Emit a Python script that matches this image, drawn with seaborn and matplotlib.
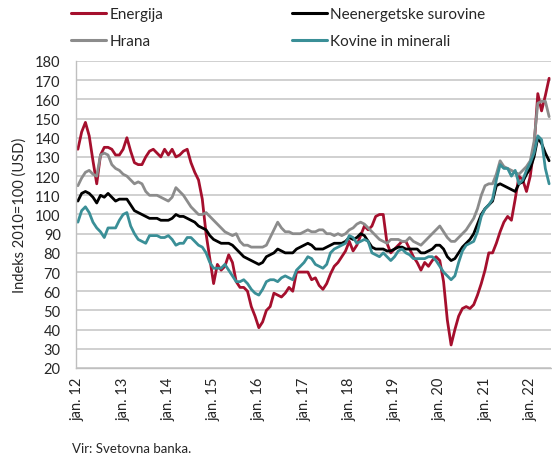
import numpy as np
import pandas as pd
import matplotlib
matplotlib.use("Agg")
import matplotlib.pyplot as plt
import seaborn as sns

# Monthly values, jan. 2012 - jun. 2022 (index 2010=100, USD)
energija = [
    134, 143, 148, 141, 128, 116, 131, 135, 135, 134, 131, 131,
    134, 140, 133, 127, 126, 126, 130, 133, 134, 132, 130, 134,
    131, 134, 130, 131, 133, 134, 127, 122, 118, 108, 90, 77,
    64, 74, 71, 73, 79, 75, 65, 62, 62, 60, 52, 47,
    41, 44, 50, 52, 59, 58, 57, 59, 62, 60, 70, 70,
    70, 70, 66, 67, 63, 61, 64, 69, 73, 75, 78, 81,
    86, 81, 84, 89, 94, 92, 94, 99, 100, 100, 85, 80,
    82, 84, 86, 86, 82, 78, 75, 71, 75, 73, 76, 78,
    76, 65, 45, 32, 40, 47, 51, 52, 51, 53, 58, 64,
    71, 80, 80, 85, 91, 96, 99, 97, 108, 120, 118, 112,
    120, 135, 163, 154, 162, 171,
]
hrana = [
    115, 119, 122, 123, 121, 120, 131, 132, 131, 126, 124, 123,
    121, 120, 118, 116, 117, 116, 112, 110, 110, 110, 109, 108,
    107, 109, 114, 112, 110, 107, 104, 102, 100, 100, 101, 99,
    97, 95, 93, 91, 90, 89, 90, 86, 84, 84, 83, 83,
    83, 83, 84, 88, 92, 96, 93, 91, 91, 90, 90, 90,
    91, 92, 91, 91, 92, 92, 90, 90, 89, 90, 89, 90,
    92, 93, 95, 96, 95, 93, 91, 89, 87, 86, 85, 87,
    87, 87, 86, 86, 88, 86, 85, 84, 86, 88, 90, 92,
    94, 91, 88, 86, 86, 88, 90, 92, 95, 98, 103, 110,
    115, 116, 116, 121, 128, 125, 124, 123, 122, 121, 123, 125,
    128, 138, 158, 159, 159, 151,
]
neenergetske = [
    107, 111, 112, 111, 109, 106, 110, 109, 111, 109, 107, 108,
    108, 108, 105, 102, 101, 100, 99, 98, 98, 98, 97, 97,
    97, 98, 100, 99, 99, 98, 97, 96, 94, 93, 92, 89,
    87, 86, 85, 85, 85, 84, 82, 80, 78, 77, 76, 75,
    74, 75, 78, 79, 80, 82, 81, 80, 80, 80, 82, 83,
    84, 85, 84, 82, 82, 82, 83, 84, 85, 85, 85, 86,
    88, 87, 88, 90, 89, 86, 83, 82, 82, 82, 81, 81,
    82, 83, 83, 82, 82, 82, 82, 80, 80, 81, 82, 84,
    84, 82, 78, 76, 77, 80, 83, 85, 87, 90, 95, 100,
    103, 105, 107, 115, 116, 115, 114, 113, 112, 116, 117, 121,
    124, 130, 140, 137, 132, 128,
]
kovine = [
    96, 102, 104, 101, 96, 93, 91, 88, 93, 93, 93, 97,
    100, 101, 94, 90, 87, 86, 85, 89, 89, 89, 88, 88,
    89, 87, 84, 85, 85, 88, 88, 86, 84, 83, 80, 75,
    72, 72, 72, 74, 71, 68, 65, 65, 66, 64, 61, 59,
    58, 61, 65, 66, 66, 65, 67, 68, 67, 66, 71, 73,
    75, 78, 77, 74, 73, 72, 74, 80, 82, 83, 84, 85,
    89, 88, 85, 86, 87, 86, 80, 79, 78, 80, 78, 76,
    78, 81, 82, 80, 79, 77, 77, 77, 77, 78, 78, 76,
    73, 70, 68, 66, 68, 75, 81, 84, 85, 86, 91, 99,
    103, 105, 108, 118, 126, 124, 124, 120, 123, 116, 118, 123,
    127, 132, 141, 139, 124, 116,
]
serije = ["Energija", "Hrana", "Neenergetske surovine", "Kovine in minerali"]
barve = ["#A50F2D", "#8C8C8C", "#000000", "#3A8F97"]
oznake_let = ["jan. 12", "jan. 13", "jan. 14", "jan. 15", "jan. 16", "jan. 17",
              "jan. 18", "jan. 19", "jan. 20", "jan. 21", "jan. 22"]

n = len(energija)
mesec = np.arange(n)
df = pd.DataFrame({
    "mesec": np.tile(mesec, 4),
    "vrednost": energija + hrana + neenergetske + kovine,
    "serija": np.repeat(serije, n),
})

sns.set_style("white")
plt.rcParams["font.family"] = ["Lato", "DejaVu Sans"]

fig = plt.figure(figsize=(5.52, 4.60), dpi=100)
ax = fig.add_axes([76 / 552, 1 - 369 / 460, (551 - 76) / 552, (369 - 62) / 460])

sns.lineplot(data=df, x="mesec", y="vrednost", hue="serija", hue_order=serije,
             palette=barve, linewidth=2.0, ax=ax, legend=False)

ax.set_xlim(-0.5, n - 0.5)
ax.set_ylim(20, 180)
ax.set_yticks(np.arange(20, 181, 10))
ax.set_xticks(np.arange(0, n, 12))
ax.set_xticklabels(oznake_let, rotation=90, fontsize=10.5)
ax.tick_params(axis="y", labelsize=10.5, length=0, pad=11)
ax.tick_params(axis="x", length=0, pad=6)
ax.grid(axis="y", color="#C8C8C8", linewidth=1.2)
ax.set_axisbelow(True)
for s in ["top", "right"]:
    ax.spines[s].set_visible(False)
for s in ["left", "bottom"]:
    ax.spines[s].set_color("#BFBFBF")
    ax.spines[s].set_linewidth(1.0)
ax.set_xlabel("")
ax.set_ylabel("Indeks 2010=100 (USD)", fontsize=10.5, labelpad=6)

h = {lab: plt.Line2D([], [], color=c, linewidth=2.2) for lab, c in zip(serije, barve)}
kw = dict(loc="upper left", frameon=False, fontsize=11, handlelength=2.3,
          handletextpad=0.2, labelspacing=0.85, borderaxespad=0, borderpad=0)
leg1 = fig.legend([h["Energija"], h["Hrana"]], ["Energija", "Hrana"],
                  bbox_to_anchor=(71 / 552, 1 - 8 / 460), **kw)
leg2 = fig.legend([h["Neenergetske surovine"], h["Kovine in minerali"]],
                  ["Neenergetske surovine", "Kovine in minerali"],
                  bbox_to_anchor=(292 / 552, 1 - 8 / 460), **kw)

fig.text(72 / 552, 1 - 449 / 460, "Vir: Svetovna banka.", fontsize=9.5, va="center", ha="left")

fig.savefig("out.png", dpi=100)
